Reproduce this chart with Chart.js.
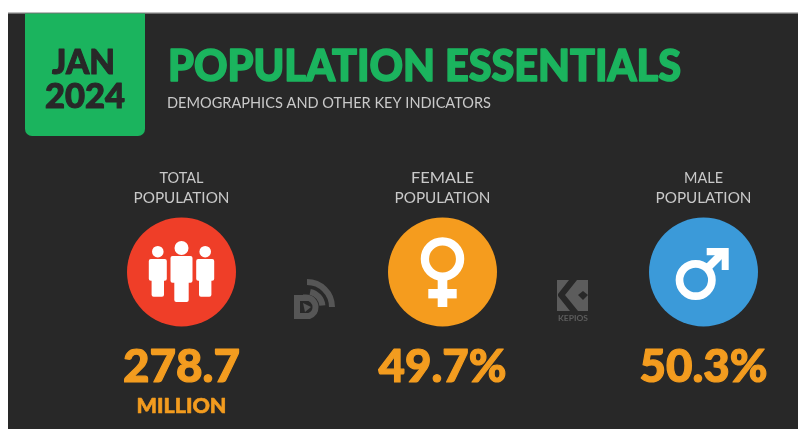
<!DOCTYPE html>
<html>
<head>
<meta charset="utf-8">
<title>Population Essentials</title>
<script src="https://cdn.jsdelivr.net/npm/chart.js@4"></script>
<style>
  html, body { margin: 0; padding: 0; background: #fff; }
  canvas { display: block; filter: blur(0.35px); }
</style>
</head>
<body>
<canvas id="myChart" width="798" height="429"></canvas>
<script>
const categories = ["TOTAL POPULATION", "FEMALE POPULATION", "MALE POPULATION"];
const labelFirst = ["TOTAL", "FEMALE", "MALE"];
const labelSecond = ["POPULATION", "POPULATION", "POPULATION"];
const headlineValues = [278.7, 49.7, 50.3];
const valueSuffix = ["", "%", "%"];
const valueUnit = ["MILLION", "", ""];
const circleColors = ["#ef3e28", "#f59c1e", "#3b9ad9"];

const DARK = "#282828";
const GREEN = "#1bb45e";
const ORANGE = "#f39c1f";
const GREY = "#c9c9c9";
const LOGO = "#565656";

// draws text so that cap height and width land where the picture has them
function fitText(ctx, text, x, base, width, cap, weight, color, align, heavy) {
    const size = cap / 0.7165;
    ctx.save();
    ctx.font = weight + " " + size + "px Lato";
    ctx.fillStyle = color;
    ctx.strokeStyle = color;
    ctx.textBaseline = "alphabetic";
    ctx.textAlign = "left";
    ctx.lineJoin = "round";
    const w = ctx.measureText(text).width;
    const left = align === "center" ? x - width / 2 : x;
    ctx.translate(left, base);
    ctx.scale(width / w, 1);
    ctx.fillText(text, 0, 0);
    if (heavy) {
        ctx.lineWidth = heavy;
        ctx.strokeText(text, 0, 0);
    }
    ctx.restore();
}

function poly(ctx, pts) {
    ctx.beginPath();
    pts.forEach((p, i) => i ? ctx.lineTo(p[0], p[1]) : ctx.moveTo(p[0], p[1]));
    ctx.closePath();
    ctx.fill();
}

function person(ctx, x, headY, headR, tw, tTop, tBottom, lw, lBottom) {
    ctx.beginPath();
    ctx.arc(x, headY, headR, 0, Math.PI * 2);
    ctx.fill();
    ctx.beginPath();
    ctx.roundRect(x - tw, tTop, tw * 2, tBottom - tTop, 2);
    ctx.roundRect(x - lw, tBottom - 3, lw * 2, lBottom - tBottom + 3, 2);
    ctx.fill();
}

function drawPeople(ctx, cx, cy) {
    ctx.fillStyle = "#fff";
    person(ctx, cx - 23.7, cy - 20.3, 5.8, 9, cy - 13, cy + 8.7, 6.2, cy + 24.7);
    person(ctx, cx + 23.7, cy - 20.3, 5.8, 9, cy - 13, cy + 8.7, 6.2, cy + 24.7);
    person(ctx, cx, cy - 24, 7, 11, cy - 16, cy + 10.7, 7.2, cy + 30);
}

function drawFemale(ctx, cx, cy) {
    ctx.strokeStyle = "#fff";
    ctx.fillStyle = "#fff";
    ctx.lineWidth = 8.3;
    ctx.beginPath();
    ctx.arc(cx, cy - 13, 17.6, 0, Math.PI * 2);
    ctx.stroke();
    ctx.fillRect(cx - 4.8, cy + 7, 9.6, 28);
    ctx.fillRect(cx - 14.2, cy + 17, 28.4, 9.4);
}

function drawMale(ctx, cx, cy) {
    ctx.strokeStyle = "#fff";
    ctx.fillStyle = "#fff";
    ctx.lineWidth = 7.7;
    ctx.beginPath();
    ctx.arc(cx - 7.8, cy + 8, 16.2, 0, Math.PI * 2);
    ctx.stroke();
    ctx.beginPath();
    ctx.moveTo(cx + 2, cy - 2);
    ctx.lineTo(cx + 21, cy - 21);
    ctx.stroke();
    poly(ctx, [[cx + 3.2, cy - 24], [cx + 25.2, cy - 24], [cx + 25.2, cy - 2],
        [cx + 18.2, cy - 2], [cx + 18.2, cy - 16.8], [cx + 3.2, cy - 16.8]]);
}

const icons = [drawPeople, drawFemale, drawMale];

function drawDataReportalLogo(ctx) {
    ctx.strokeStyle = LOGO;
    ctx.fillStyle = LOGO;
    ctx.lineWidth = 6;
    ctx.beginPath();
    ctx.arc(307, 307, 25, -Math.PI / 2, 0);
    ctx.stroke();
    ctx.beginPath();
    ctx.moveTo(297, 298);
    ctx.lineTo(306, 298);
    ctx.arc(306, 307, 9.5, -Math.PI / 2, Math.PI / 2.6);
    ctx.lineTo(297, 316);
    ctx.closePath();
    ctx.stroke();
    ctx.beginPath();
    ctx.arc(307, 307, 15.5, -Math.PI / 2.3, -0.1);
    ctx.stroke();
    poly(ctx, [[303, 303], [311, 307], [305, 312]]);
}

function drawKepiosLogo(ctx) {
    ctx.fillStyle = "#5c5c5c";
    ctx.fillRect(557, 280, 31, 31);
    ctx.fillStyle = DARK;
    poly(ctx, [[569, 280], [577, 280], [565, 295], [578, 311], [570, 311], [558, 296], [558, 294]]);
    poly(ctx, [[583, 291], [588, 295], [583, 300], [578, 295]]);
    fitText(ctx, "KEPIOS", 558, 321, 30, 5.5, 700, "#5c5c5c");
}

const panelPlugin = {
    id: "panel",
    beforeDatasetsDraw(chart) {
        const ctx = chart.ctx;
        ctx.save();
        ctx.fillStyle = "#fff";
        ctx.fillRect(0, 0, 798, 429);
        ctx.fillStyle = "#bdbdbd";
        ctx.fillRect(8, 12, 790, 2);
        ctx.fillStyle = DARK;
        ctx.fillRect(8, 13.5, 790, 416);

        ctx.fillStyle = GREEN;
        ctx.beginPath();
        ctx.roundRect(25, 13.5, 120, 122.5, [0, 0, 7, 7]);
        ctx.fill();

        fitText(ctx, "JAN", 52, 74, 63, 24, 900, DARK, "left", 1);
        fitText(ctx, "2024", 45, 108, 80, 24, 900, DARK, "left", 1);
        fitText(ctx, "POPULATION ESSENTIALS", 168, 81, 513, 31, 900, GREEN, "left", 1.6);
        fitText(ctx, "DEMOGRAPHICS AND OTHER KEY INDICATORS", 167, 108, 324, 11.5, 400, GREY);

        drawDataReportalLogo(ctx);
        drawKepiosLogo(ctx);
        ctx.restore();
    },
    afterDatasetsDraw(chart) {
        const ctx = chart.ctx;
        const points = chart.getDatasetMeta(0).data;
        ctx.save();
        points.forEach((pt, i) => {
            icons[i](ctx, pt.x, pt.y);
            const firstWidth = [44, 63, 39][i];
            fitText(ctx, labelFirst[i], pt.x, pt.y - 89, firstWidth, 11.5, 400, GREY, "center");
            fitText(ctx, labelSecond[i], pt.x, pt.y - 69, 96, 11.5, 400, GREY, "center");
            const valueText = headlineValues[i].toFixed(1) + valueSuffix[i];
            fitText(ctx, valueText, pt.x, pt.y + 110, i === 0 ? 117 : 128, 33, 900, ORANGE, "center", 1.2);
            if (valueUnit[i]) {
                fitText(ctx, valueUnit[i], pt.x, pt.y + 141, 90, 15, 900, ORANGE, "center", 0.6);
            }
        });
        ctx.restore();
    }
};

new Chart(document.getElementById("myChart"), {
    type: "scatter",
    data: {
        labels: categories,
        datasets: [{
            data: categories.map((c, i) => ({ x: i, y: 0 })),
            pointRadius: 54.5,
            pointHoverRadius: 54.5,
            pointBorderWidth: 0,
            pointBackgroundColor: circleColors
        }]
    },
    options: {
        responsive: false,
        animation: false,
        events: [],
        layout: { padding: 0, autoPadding: false },
        plugins: { legend: { display: false }, tooltip: { enabled: false } },
        scales: {
            x: { display: false, min: -181.5 / 261, max: 616.5 / 261 },
            y: { display: false, min: -157, max: 272 }
        }
    },
    plugins: [panelPlugin]
});
</script>
</body>
</html>
